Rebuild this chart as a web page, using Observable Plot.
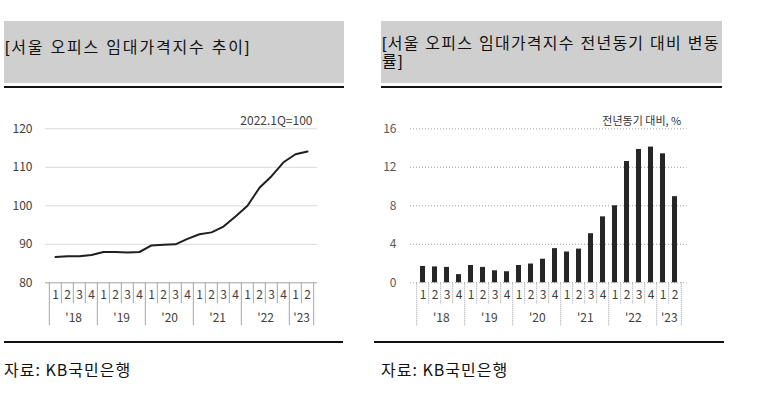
<!DOCTYPE html>
<html>
<head>
<meta charset="utf-8">
<script src="https://cdn.jsdelivr.net/npm/d3@7"></script>
<script src="https://cdn.jsdelivr.net/npm/@observablehq/plot@0.6"></script>
<style>
  html, body { margin: 0; padding: 0; background: #fff; }
  #root { position: relative; width: 772px; height: 400px; overflow: hidden; font-family: "Noto Sans CJK KR", sans-serif; }
  .hdr { position: absolute; background: #d0cfd0; }
  .hline { position: absolute; height: 2px; background: #111; }
  .title { position: absolute; font-family: "Liberation Sans", "Noto Sans CJK KR", sans-serif; font-size: 16px; color: #111; line-height: 18px; white-space: nowrap; }
  .foot { position: absolute; font-size: 16px; color: #111; white-space: nowrap; letter-spacing: 1px; }
  .chart { position: absolute; }
</style>
</head>
<body>
<div id="root">
  <div class="hdr" style="left:4px;top:21px;width:340px;height:62px;"></div>
  <div class="hline" style="left:4px;top:86px;width:340px;"></div>
  <div class="title" style="left:5px;top:39px;letter-spacing:1.8px;">[서울 오피스 임대가격지수 추이]</div>

  <div class="hdr" style="left:381px;top:21px;width:341px;height:62px;"></div>
  <div class="hline" style="left:381px;top:86px;width:341px;"></div>
  <div class="title" style="left:382px;top:35px;letter-spacing:1.25px;">[서울 오피스 임대가격지수 전년동기 대비 변동</div>
  <div class="title" style="left:382px;top:53px;letter-spacing:1.25px;">률]</div>

  <div id="left" class="chart" style="left:0px;top:100px;"></div>
  <div id="right" class="chart" style="left:360px;top:100px;"></div>

  <div class="hline" style="left:4px;top:341px;width:339px;height:1.5px;"></div>
  <div class="hline" style="left:374px;top:341px;width:350px;height:1.5px;"></div>
  <div class="foot" style="left:4px;top:357px;">자료: KB국민은행</div>
  <div class="foot" style="left:381px;top:357px;">자료: KB국민은행</div>
</div>
<script>
// ---- data ----
const quarters = ["18Q1","18Q2","18Q3","18Q4","19Q1","19Q2","19Q3","19Q4","20Q1","20Q2","20Q3","20Q4",
                  "21Q1","21Q2","21Q3","21Q4","22Q1","22Q2","22Q3","22Q4","23Q1","23Q2"];
const quarterLabels = ["1","2","3","4","1","2","3","4","1","2","3","4","1","2","3","4","1","2","3","4","1","2"];
const years = ["18","19","20","21","22","23"];
const yearLabels = ["'18","'19","'20","'21","'22","'23"];
const indexValues = [86.7, 86.9, 86.9, 87.2, 88.0, 88.0, 87.9, 88.0, 89.7, 89.9, 90.0, 91.4,
                     92.6, 93.1, 94.6, 97.2, 100.0, 104.7, 107.7, 111.3, 113.4, 114.1];
const yoyValues = [1.7, 1.65, 1.6, 0.85, 1.8, 1.6, 1.25, 1.15, 1.8, 1.95, 2.45, 3.55,
                   3.2, 3.5, 5.1, 6.85, 8.0, 12.6, 13.85, 14.1, 13.4, 8.95];
const leftTicks = [80, 90, 100, 110, 120];
const rightTicks = [0, 4, 8, 12, 16];
const leftNote = "2022.1Q=100";
const rightNote = "전년동기 대비, %";

const lineData = quarters.map((q, i) => ({q, v: indexValues[i]}));
const barData = quarters.map((q, i) => ({q, v: yoyValues[i]}));
const qLabel = new Map(quarters.map((q, i) => [q, quarterLabels[i]]));
const firstOfYear = years.map(y => quarters.find(q => q.startsWith(y)));
const midOfYear = years.map(y => { const qs = quarters.filter(q => q.startsWith(y)); return qs[Math.floor((qs.length - 1) / 2)]; });
const yLabel = new Map(midOfYear.map((q, i) => [q, yearLabels[i]]));
const innerQuarters = quarters.filter(q => !firstOfYear.includes(q));
const lastQ = [quarters[quarters.length - 1]];

function xAxisMarks(step, sepStyle, textColor) {
  return [
    Plot.axisX({ticks: innerQuarters, tickSize: 21, tickFormat: () => "", label: null, dx: -step / 2, ...sepStyle}),
    Plot.axisX({ticks: firstOfYear, tickSize: 43, tickFormat: () => "", label: null, dx: -step / 2, ...sepStyle}),
    Plot.axisX({ticks: lastQ, tickSize: 43, tickFormat: () => "", label: null, dx: step / 2, ...sepStyle}),
    Plot.axisX({ticks: quarters, tickSize: 0, tickPadding: 8, label: null, tickFormat: q => qLabel.get(q), fontSize: 12, fill: textColor}),
    Plot.axisX({ticks: midOfYear, tickSize: 0, tickPadding: 31, label: null, tickFormat: q => yLabel.get(q), dx: step / 2, fontSize: 12, fill: textColor})
  ];
}

// ---- left chart ----
{
  const W = 345, H = 235, ml = 45, mr = 28, mt = 28.3, mb = 52.7;
  const step = (W - ml - mr) / quarters.length;
  const sep = {stroke: "#a6a6a6", strokeOpacity: 1};
  const chart = Plot.plot({
    width: W, height: H, marginLeft: ml, marginRight: mr, marginTop: mt, marginBottom: mb,
    style: {fontFamily: "'Noto Sans CJK KR', sans-serif", fontSize: "12px", color: "#404040", background: "transparent"},
    x: {type: "band", domain: quarters, padding: 0},
    y: {domain: [80, 120]},
    marks: [
      Plot.ruleY(leftTicks.slice(1), {stroke: "#d9d9d9"}),
      Plot.ruleY([80], {stroke: "#a6a6a6"}),
      Plot.axisY({ticks: leftTicks, tickSize: 0, tickPadding: 13, label: null, fontSize: 12, fill: "#404040"}),
      ...xAxisMarks(step, sep, "#404040"),
      Plot.line(lineData, {x: "q", y: "v", stroke: "#1f1f1f", strokeWidth: 2}),
      Plot.text([leftNote], {text: d => d, frameAnchor: "top-right", lineAnchor: "middle", dx: -5, dy: -7.6, fontSize: 12, fill: "#404040"})
    ]
  });
  document.getElementById("left").appendChild(chart);
}

// ---- right chart ----
{
  const W = 362, H = 235, ml = 50, mr = 35.3, mt = 28.3, mb = 52.7;
  const step = (W - ml - mr) / quarters.length;
  const sep = {stroke: "#9a9a9a", strokeOpacity: 1, strokeDasharray: "1,1"};
  const chart = Plot.plot({
    width: W, height: H, marginLeft: ml, marginRight: mr, marginTop: mt, marginBottom: mb,
    style: {fontFamily: "'Noto Sans CJK KR', sans-serif", fontSize: "12px", color: "#595959", background: "transparent"},
    x: {type: "band", domain: quarters, paddingInner: 0.6, paddingOuter: 0.3},
    y: {domain: [0, 16]},
    marks: [
      Plot.ruleY(rightTicks, {stroke: "#a0a0a0", strokeDasharray: "1,2"}),
      Plot.axisY({ticks: rightTicks, tickSize: 0, tickPadding: 14, label: null, fontSize: 12, fill: "#595959"}),
      ...xAxisMarks(step, sep, "#404040"),
      Plot.barY(barData, {x: "q", y: "v", fill: "#262626"}),
      Plot.text([rightNote], {text: d => d, frameAnchor: "top-right", lineAnchor: "middle", dx: -6, dy: -7.6, fontSize: 11, fill: "#333"})
    ]
  });
  document.getElementById("right").appendChild(chart);
}
</script>
</body>
</html>
